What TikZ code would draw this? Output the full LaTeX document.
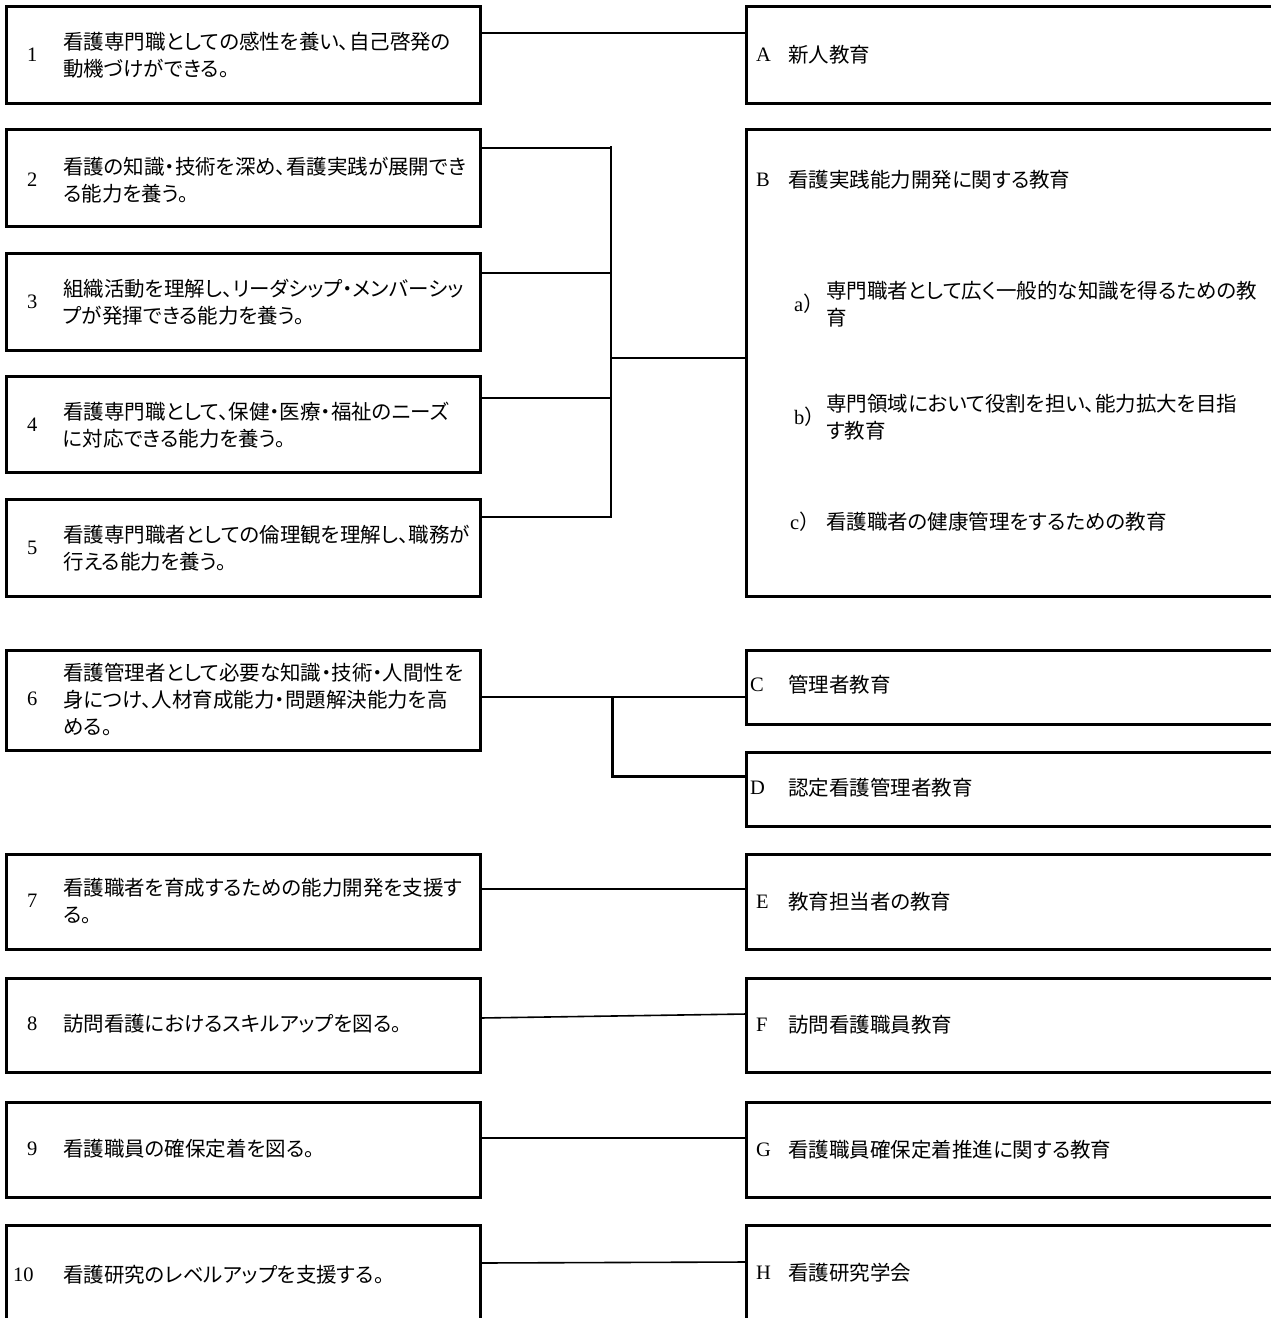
\documentclass[tikz,border=0pt]{standalone}
\usepackage{fontspec}
\setmainfont{Liberation Serif}
\newfontfamily\jp[RawFeature=+palt]{Noto Sans CJK JP}
\begin{document}
\begin{tikzpicture}[x=1pt,y=-1pt,
  box/.style={draw,line width=3pt,inner sep=0pt,outer sep=0pt,anchor=north west},
  conn/.style={line width=1.6pt},
  txt/.style={anchor=west,align=left,inner sep=0pt,font=\fontsize{20.5}{27}\selectfont\jp},
  num/.style={anchor=west,inner sep=0pt,font=\fontsize{20.5}{24}\selectfont}]
\clip (0,0) rectangle (1271,1318);
\fill[white] (0,0) rectangle (1271,1318);
% left boxes
\node[box,minimum width=473.5pt,minimum height=96.5pt] (l1) at (6.5,6.5) {};
\node[box,minimum width=473.5pt,minimum height=97pt] (l2) at (6.5,129) {};
\node[box,minimum width=473.5pt,minimum height=97pt] (l3) at (6.5,253) {};
\node[box,minimum width=473.5pt,minimum height=96pt] (l4) at (6.5,376) {};
\node[box,minimum width=473.5pt,minimum height=97pt] (l5) at (6.5,499) {};
\node[box,minimum width=473.5pt,minimum height=100pt] (l6) at (6.5,650) {};
\node[box,minimum width=473.5pt,minimum height=95pt] (l7) at (6.5,854) {};
\node[box,minimum width=473.5pt,minimum height=94pt] (l8) at (6.5,978) {};
\node[box,minimum width=473.5pt,minimum height=95pt] (l9) at (6.5,1102) {};
\node[box,minimum width=473.5pt,minimum height=115pt] (l10) at (6.5,1225) {};
% right boxes
\node[box,minimum width=560pt,minimum height=96.5pt] (rA) at (746.5,6.5) {};
\node[box,minimum width=560pt,minimum height=467pt] (rB) at (746.5,129) {};
\node[box,minimum width=560pt,minimum height=74pt] (rC) at (746.5,650) {};
\node[box,minimum width=560pt,minimum height=74pt] (rD) at (746.5,752) {};
\node[box,minimum width=560pt,minimum height=95pt] (rE) at (746.5,854) {};
\node[box,minimum width=560pt,minimum height=94pt] (rF) at (746.5,978) {};
\node[box,minimum width=560pt,minimum height=95pt] (rG) at (746.5,1102) {};
\node[box,minimum width=560pt,minimum height=115pt] (rH) at (746.5,1225) {};
% left texts
\node[num] (n1) at (27,55) {1};
\node[txt] (t1) at (63,55) {看護専門職としての感性を養い、自己啓発の\\動機づけができる。};
\node[num] (n2) at (27,180) {2};
\node[txt] (t2) at (63,180) {看護の知識・技術を深め、看護実践が展開でき\\る能力を養う。};
\node[num] (n3) at (27,302) {3};
\node[txt] (t3) at (63,302) {組織活動を理解し、リーダシップ・メンバーシッ\\プが発揮できる能力を養う。};
\node[num] (n4) at (27,425) {4};
\node[txt] (t4) at (63,425) {看護専門職として、保健・医療・福祉のニーズ\\に対応できる能力を養う。};
\node[num] (n5) at (27,548) {5};
\node[txt] (t5) at (63,548) {看護専門職者としての倫理観を理解し、職務が\\行える能力を養う。};
\node[num] (n6) at (27,699) {6};
\node[txt] (t6) at (63,699) {看護管理者として必要な知識・技術・人間性を\\身につけ、人材育成能力・問題解決能力を高\\める。};
\node[num] (n7) at (27,901) {7};
\node[txt] (t7) at (63,901) {看護職者を育成するための能力開発を支援す\\る。};
\node[num] (n8) at (27,1024) {8};
\node[txt] (t8) at (63,1024) {訪問看護におけるスキルアップを図る。};
\node[num] (n9) at (27,1149) {9};
\node[txt] (t9) at (63,1149) {看護職員の確保定着を図る。};
\node[num] (n10) at (13,1275) {10};
\node[txt] (t10) at (63,1275) {看護研究のレベルアップを支援する。};
% right texts
\node[num] (kA) at (756,55) {A};
\node[txt] (sA) at (788,55) {新人教育};
\node[num] (kB) at (756,180) {B};
\node[txt] (sB) at (788,180) {看護実践能力開発に関する教育};
\node[num] (ka) at (794,304) {a\kern1pt{\jp ）}};
\node[txt] (sa) at (826,304) {専門職者として広く一般的な知識を得るための教\\育};
\node[num] (kb) at (794,417) {b\kern1pt{\jp ）}};
\node[txt] (sb) at (826,417) {専門領域において役割を担い、能力拡大を目指\\す教育};
\node[num] (kc) at (790,522) {c\kern1pt{\jp ）}};
\node[txt] (sc) at (826,522) {看護職者の健康管理をするための教育};
\node[num] (kC) at (750,685) {C};
\node[txt] (sC) at (788,685) {管理者教育};
\node[num] (kD) at (750,788) {D};
\node[txt] (sD) at (788,788) {認定看護管理者教育};
\node[num] (kE) at (756,902) {E};
\node[txt] (sE) at (788,902) {教育担当者の教育};
\node[num] (kF) at (756,1025) {F};
\node[txt] (sF) at (788,1025) {訪問看護職員教育};
\node[num] (kG) at (756,1150) {G};
\node[txt] (sG) at (788,1150) {看護職員確保定着推進に関する教育};
\node[num] (kH) at (756,1273) {H};
\node[txt] (sH) at (788,1273) {看護研究学会};
% connectors
\draw[conn] (l1.east |- 0,33) -- (rA.west |- 0,33);
\coordinate (jB) at (611,358);
\draw[conn] (l2.east |- 0,148) -- (jB |- 0,148);
\draw[conn] (l3.east |- 0,273) -- (jB |- 0,273);
\draw[conn] (l4.east |- 0,398) -- (jB |- 0,398);
\draw[conn] (l5.east |- 0,517) -- (jB |- 0,517);
\draw[conn] (jB |- 0,146) -- (jB |- 0,517.8);
\draw[conn] (jB) -- (rB.west |- jB);
\draw[conn] (l6.east |- 0,697) -- (rC.west |- 0,697);
\coordinate (jD) at (612,776);
\draw[line width=3pt] (jD |- 0,698) -- (jD) -- (rD.west |- jD);
\draw[conn] (l7.east |- 0,889) -- (rE.west |- 0,889);
\draw[conn] (l8.east |- 0,1018) -- (rF.west |- 0,1014);
\draw[conn] (l9.east |- 0,1138) -- (rG.west |- 0,1138);
\draw[conn] (l10.east |- 0,1263) -- (rH.west |- 0,1262);
\end{tikzpicture}
\end{document}
